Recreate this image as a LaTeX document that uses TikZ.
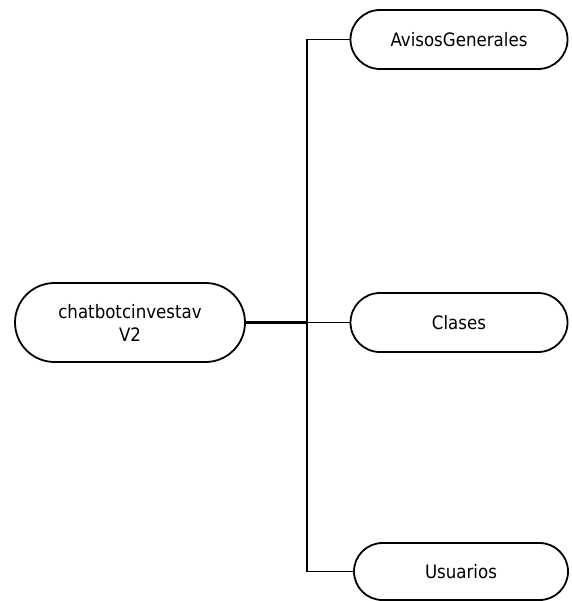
\documentclass[tikz,border=0pt]{standalone}
\usepackage{fontspec}
\setmainfont{DejaVu Sans Condensed}
\usetikzlibrary{shapes.misc}

\begin{document}
\begin{tikzpicture}[x=1pt,y=-1pt,
    pill/.style={draw, rounded rectangle, line width=1.8pt, inner sep=0pt, align=center, font=\fontsize{18.5}{23}\selectfont},
    link/.style={line width=1.8pt}]
    \useasboundingbox (0,0) rectangle (571,601);

    % Root
    \node[pill, minimum width=230pt, minimum height=79pt] (root) at (130,322.5) {chatbotcinvestav\\V2};

    % Children
    \node[pill, minimum width=217pt, minimum height=59pt] (avisos) at (459,39.5) {AvisosGenerales};
    \node[pill, minimum width=217pt, minimum height=59pt] (clases) at (459,322.5) {Clases};
    \node[pill, minimum width=214pt, minimum height=57pt] (usuarios) at (461,571.5) {Usuarios};

    % Connectors
    \coordinate (trunk) at (307,322.5);
    \draw[link, line width=3.6pt] (root.east) -- (trunk);
    \draw[link] (trunk) -- (clases.west);
    \draw[link] (avisos.west) -| (trunk) |- (usuarios.west);

\end{tikzpicture}
\end{document}
